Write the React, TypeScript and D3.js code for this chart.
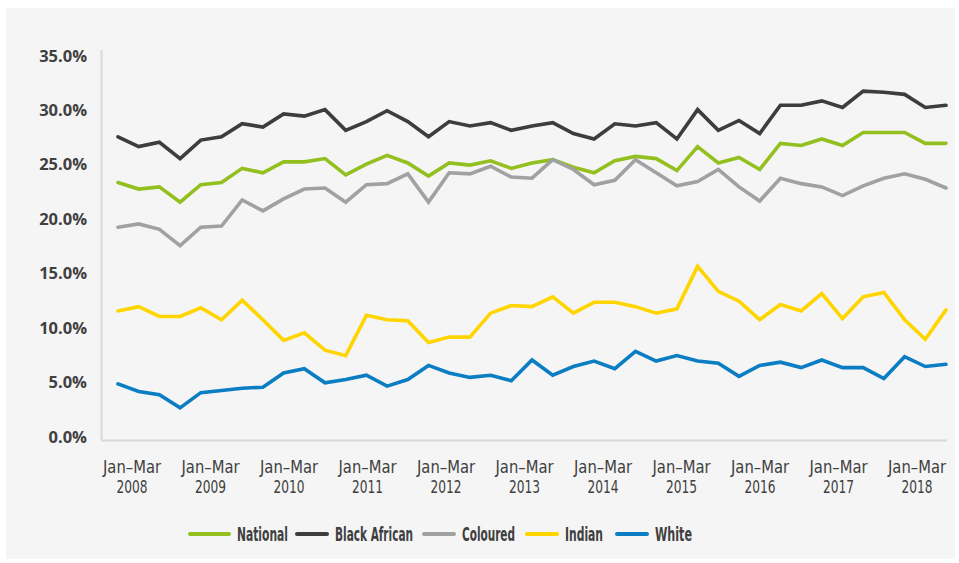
import React from "react";
import * as d3 from "d3";

// Quarterly unemployment rate by population group, Jan–Mar 2008 to Jan–Mar 2018 (41 quarters)
const quarters: string[] = d3.range(41).map((i) => `${2008 + Math.floor(i / 4)}Q${(i % 4) + 1}`);

const national: number[] = [
  23.1, 22.5, 22.7, 21.3, 22.9, 23.1, 24.4, 24.0, 25.0, 25.0, 25.3, 23.8, 24.8, 25.6,
  24.9, 23.7, 24.9, 24.7, 25.1, 24.4, 24.9, 25.2, 24.5, 24.0, 25.1, 25.5, 25.3, 24.2,
  26.4, 24.9, 25.4, 24.3, 26.7, 26.5, 27.1, 26.5, 27.7, 27.7, 27.7, 26.7, 26.7,
];
const blackAfrican: number[] = [
  27.3, 26.4, 26.8, 25.3, 27.0, 27.3, 28.5, 28.2, 29.4, 29.2, 29.8, 27.9, 28.7, 29.7,
  28.7, 27.3, 28.7, 28.3, 28.6, 27.9, 28.3, 28.6, 27.6, 27.1, 28.5, 28.3, 28.6, 27.1,
  29.8, 27.9, 28.8, 27.6, 30.2, 30.2, 30.6, 30.0, 31.5, 31.4, 31.2, 30.0, 30.2,
];
const coloured: number[] = [
  19.0, 19.3, 18.8, 17.3, 19.0, 19.1, 21.5, 20.5, 21.6, 22.5, 22.6, 21.3, 22.9, 23.0,
  23.9, 21.3, 24.0, 23.9, 24.6, 23.6, 23.5, 25.2, 24.3, 22.9, 23.3, 25.2, 24.0, 22.8,
  23.2, 24.3, 22.7, 21.4, 23.5, 23.0, 22.7, 21.9, 22.8, 23.5, 23.9, 23.4, 22.6,
];
const indian: number[] = [
  11.3, 11.7, 10.8, 10.8, 11.6, 10.5, 12.3, 10.5, 8.6, 9.3, 7.7, 7.2, 10.9, 10.5,
  10.4, 8.4, 8.9, 8.9, 11.1, 11.8, 11.7, 12.6, 11.1, 12.1, 12.1, 11.7, 11.1, 11.5,
  15.4, 13.1, 12.2, 10.5, 11.9, 11.3, 12.9, 10.6, 12.6, 13.0, 10.5, 8.7, 11.4,
];
const white: number[] = [
  4.6, 3.9, 3.6, 2.4, 3.8, 4.0, 4.2, 4.3, 5.6, 6.0, 4.7, 5.0, 5.4, 4.4,
  5.0, 6.3, 5.6, 5.2, 5.4, 4.9, 6.8, 5.4, 6.2, 6.7, 6.0, 7.6, 6.7, 7.2,
  6.7, 6.5, 5.3, 6.3, 6.6, 6.1, 6.8, 6.1, 6.1, 5.1, 7.1, 6.2, 6.4,
];

const seriesNames: string[] = ["National", "Black African", "Coloured", "Indian", "White"];
const seriesValues: number[][] = [national, blackAfrican, coloured, indian, white];
const seriesColors: string[] = ["#93c01f", "#3d3d3d", "#a1a1a1", "#ffd500", "#0a7dc3"];

const yTicks: number[] = [0, 5, 10, 15, 20, 25, 30, 35];
const yearLabels: string[] = d3.range(2008, 2019).map(String);

const W = 959;
const H = 563;
const TEXT = "#404040";
const AXIS = "#d9d9d9";
const NARROW = "'DejaVu Sans Condensed', 'Liberation Sans', sans-serif";

// legend layout: swatch start, swatch length and condensed label width per item
const legendSwatchX = [190, 297, 424, 527, 617];
const legendSwatchLen = [39, 30, 30, 30, 30];
const legendTextLen = [51, 78, 53, 38, 37];

export default function App() {
  const x = d3.scaleLinear().domain([0, quarters.length - 1]).range([118, 946]);
  const y = d3.scaleLinear().domain([0, 35]).range([434, 53]);
  const xLabel = d3.scalePoint<string>().domain(yearLabels).range([132, 917]);

  const line = d3
    .line<number>()
    .x((_, i) => x(i))
    .y((d) => y(d));

  return (
    <svg
      width={W}
      height={H}
      style={{ position: "absolute", left: 0, top: 0, display: "block" }}
    >
      <rect x={0} y={0} width={W} height={H} fill="#ffffff" />
      <rect x={6} y={8} width={949} height={551} fill="#f5f5f5" />

      {/* axes frame */}
      <line x1={101.5} y1={50} x2={101.5} y2={440} stroke={AXIS} strokeWidth={2} />
      <line x1={101} y1={440.5} x2={947} y2={440.5} stroke={AXIS} strokeWidth={2} />

      {/* y tick labels */}
      {yTicks.map((t) => (
        <text
          key={t}
          x={87}
          y={y(t) + 2}
          textAnchor="end"
          dominantBaseline="central"
          fontFamily="'Open Sans', sans-serif"
          fontWeight={700}
          fontSize={16.5}
          fill={TEXT}
        >
          {`${t.toFixed(1)}%`}
        </text>
      ))}

      {/* x tick labels */}
      {yearLabels.map((yr) => (
        <g key={yr}>
          <text
            x={(xLabel(yr) as number) - 29}
            y={473}
            textLength={58}
            lengthAdjust="spacingAndGlyphs"
            fontFamily={NARROW}
            fontSize={18}
            fill={TEXT}
          >
            Jan–Mar
          </text>
          <text
            x={(xLabel(yr) as number) - 15.5}
            y={493}
            textLength={31}
            lengthAdjust="spacingAndGlyphs"
            fontFamily={NARROW}
            fontSize={18}
            fill={TEXT}
          >
            {yr}
          </text>
        </g>
      ))}

      {/* series lines */}
      {seriesValues.map((vals, s) => (
        <path
          key={seriesNames[s]}
          d={line(vals) || ""}
          fill="none"
          stroke={seriesColors[s]}
          strokeWidth={3.6}
          strokeLinejoin="miter"
          strokeLinecap="round"
        />
      ))}

      {/* legend */}
      {seriesNames.map((name, s) => {
        const sx = legendSwatchX[s];
        const len = legendSwatchLen[s];
        return (
          <g key={name}>
            <line
              x1={sx}
              y1={534}
              x2={sx + len}
              y2={534}
              stroke={seriesColors[s]}
              strokeWidth={4}
              strokeLinecap="round"
            />
            <text
              x={sx + len + 8}
              y={541}
              textLength={legendTextLen[s]}
              lengthAdjust="spacingAndGlyphs"
              fontFamily={NARROW}
              fontWeight={700}
              fontSize={19}
              fill={TEXT}
            >
              {name}
            </text>
          </g>
        );
      })}
    </svg>
  );
}
